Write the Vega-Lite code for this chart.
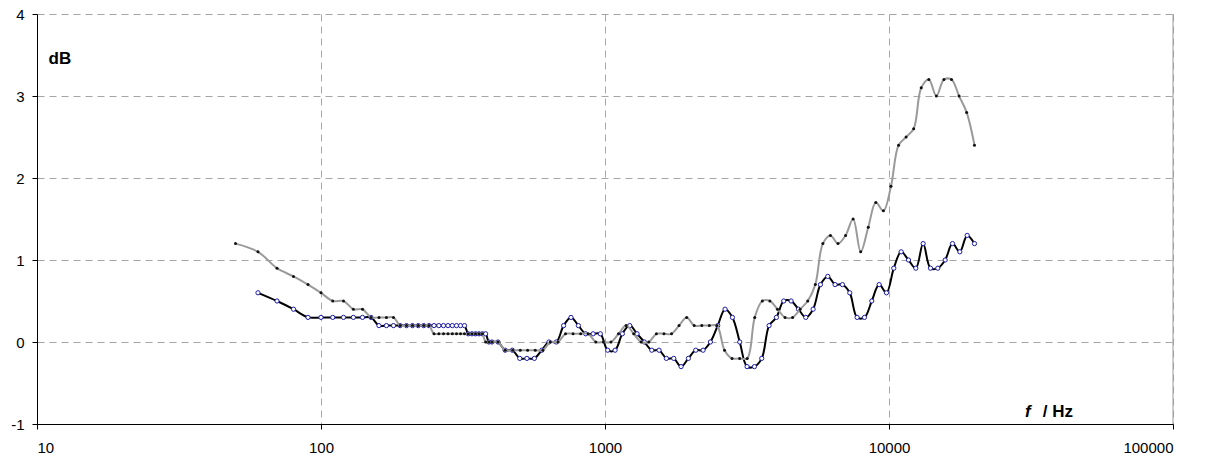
{
  "$schema": "https://vega.github.io/schema/vega-lite/v6.json",
  "width": 1136,
  "height": 410,
  "autosize": {"type": "none"},
  "padding": {"left": 37, "top": 14, "right": 44, "bottom": 35},
  "background": "white",
  "config": {
    "view": {"stroke": null},
    "font": "Liberation Sans",
    "axis": {
      "labelFont": "Liberation Sans",
      "labelFontSize": 15,
      "labelColor": "black",
      "domainColor": "black",
      "domainWidth": 1,
      "tickColor": "black",
      "tickSize": 5,
      "gridColor": "#a6a6a6",
      "gridDash": [7, 5],
      "gridWidth": 1
    }
  },
  "datasets": {
    "gray": [
      {"f": 50, "v": 1.2}, {"f": 60, "v": 1.1}, {"f": 70, "v": 0.9}, {"f": 80, "v": 0.8}, {"f": 90, "v": 0.7},
      {"f": 100, "v": 0.6}, {"f": 110, "v": 0.5}, {"f": 120, "v": 0.5}, {"f": 130, "v": 0.4}, {"f": 140, "v": 0.4},
      {"f": 150, "v": 0.3}, {"f": 160, "v": 0.3}, {"f": 170, "v": 0.3}, {"f": 180, "v": 0.3}, {"f": 190, "v": 0.2},
      {"f": 200, "v": 0.2}, {"f": 210, "v": 0.2}, {"f": 220, "v": 0.2}, {"f": 230, "v": 0.2}, {"f": 240, "v": 0.2},
      {"f": 250, "v": 0.1}, {"f": 260, "v": 0.1}, {"f": 270, "v": 0.1}, {"f": 280, "v": 0.1}, {"f": 290, "v": 0.1},
      {"f": 300, "v": 0.1}, {"f": 310, "v": 0.1}, {"f": 320, "v": 0.1}, {"f": 330, "v": 0.1}, {"f": 340, "v": 0.1},
      {"f": 350, "v": 0.1}, {"f": 360, "v": 0.1}, {"f": 370, "v": 0.1}, {"f": 380, "v": 0.0}, {"f": 390, "v": 0.0},
      {"f": 400, "v": 0.0}, {"f": 420, "v": 0.0},
      {"f": 445, "v": -0.1}, {"f": 473, "v": -0.1}, {"f": 503, "v": -0.1}, {"f": 534, "v": -0.1}, {"f": 568, "v": -0.1},
      {"f": 604, "v": -0.1}, {"f": 642, "v": 0.0}, {"f": 683, "v": 0.0}, {"f": 726, "v": 0.1}, {"f": 772, "v": 0.1},
      {"f": 821, "v": 0.1}, {"f": 873, "v": 0.1}, {"f": 928, "v": 0.0}, {"f": 987, "v": 0.0}, {"f": 1050, "v": 0.0},
      {"f": 1116, "v": 0.1}, {"f": 1187, "v": 0.2}, {"f": 1262, "v": 0.1}, {"f": 1341, "v": 0.0}, {"f": 1426, "v": 0.0},
      {"f": 1517, "v": 0.1}, {"f": 1613, "v": 0.1}, {"f": 1715, "v": 0.1}, {"f": 1823, "v": 0.2}, {"f": 1939, "v": 0.3},
      {"f": 2061, "v": 0.2}, {"f": 2192, "v": 0.2}, {"f": 2330, "v": 0.2}, {"f": 2478, "v": 0.2}, {"f": 2635, "v": -0.1},
      {"f": 2801, "v": -0.2}, {"f": 2979, "v": -0.2}, {"f": 3167, "v": -0.2}, {"f": 3367, "v": 0.3}, {"f": 3581, "v": 0.5},
      {"f": 3807, "v": 0.5}, {"f": 4048, "v": 0.4}, {"f": 4304, "v": 0.3}, {"f": 4577, "v": 0.3}, {"f": 4866, "v": 0.4},
      {"f": 5174, "v": 0.5}, {"f": 5502, "v": 0.7}, {"f": 5850, "v": 1.2}, {"f": 6220, "v": 1.3}, {"f": 6613, "v": 1.2},
      {"f": 7032, "v": 1.3}, {"f": 7477, "v": 1.5}, {"f": 7950, "v": 1.1}, {"f": 8453, "v": 1.4}, {"f": 8988, "v": 1.7},
      {"f": 9557, "v": 1.6}, {"f": 10162, "v": 1.9}, {"f": 10805, "v": 2.4}, {"f": 11488, "v": 2.5}, {"f": 12215, "v": 2.6},
      {"f": 12988, "v": 3.1}, {"f": 13810, "v": 3.2}, {"f": 14684, "v": 3.0}, {"f": 15614, "v": 3.2}, {"f": 16602, "v": 3.2},
      {"f": 17652, "v": 3.0}, {"f": 18769, "v": 2.8}, {"f": 20000, "v": 2.4}
    ],
    "black": [
      {"f": 60, "v": 0.6}, {"f": 70, "v": 0.5}, {"f": 80, "v": 0.4}, {"f": 90, "v": 0.3}, {"f": 100, "v": 0.3},
      {"f": 110, "v": 0.3}, {"f": 120, "v": 0.3}, {"f": 130, "v": 0.3}, {"f": 140, "v": 0.3}, {"f": 150, "v": 0.3},
      {"f": 160, "v": 0.2}, {"f": 170, "v": 0.2}, {"f": 180, "v": 0.2}, {"f": 190, "v": 0.2}, {"f": 200, "v": 0.2},
      {"f": 210, "v": 0.2}, {"f": 220, "v": 0.2}, {"f": 230, "v": 0.2}, {"f": 240, "v": 0.2}, {"f": 250, "v": 0.2},
      {"f": 260, "v": 0.2}, {"f": 270, "v": 0.2}, {"f": 280, "v": 0.2}, {"f": 290, "v": 0.2}, {"f": 300, "v": 0.2},
      {"f": 310, "v": 0.2}, {"f": 320, "v": 0.2}, {"f": 330, "v": 0.1}, {"f": 340, "v": 0.1}, {"f": 350, "v": 0.1},
      {"f": 360, "v": 0.1}, {"f": 370, "v": 0.1}, {"f": 380, "v": 0.1}, {"f": 390, "v": 0.0}, {"f": 400, "v": 0.0},
      {"f": 420, "v": 0.0},
      {"f": 445, "v": -0.1}, {"f": 472, "v": -0.1}, {"f": 501, "v": -0.2}, {"f": 531, "v": -0.2}, {"f": 564, "v": -0.2},
      {"f": 599, "v": -0.1}, {"f": 635, "v": 0.0}, {"f": 674, "v": 0.0}, {"f": 715, "v": 0.2}, {"f": 759, "v": 0.3},
      {"f": 806, "v": 0.2}, {"f": 855, "v": 0.1}, {"f": 908, "v": 0.1}, {"f": 963, "v": 0.1}, {"f": 1022, "v": -0.1},
      {"f": 1085, "v": -0.1}, {"f": 1151, "v": 0.1}, {"f": 1222, "v": 0.2}, {"f": 1297, "v": 0.1}, {"f": 1376, "v": 0.0},
      {"f": 1461, "v": -0.1}, {"f": 1550, "v": -0.1}, {"f": 1645, "v": -0.2}, {"f": 1746, "v": -0.2}, {"f": 1853, "v": -0.3},
      {"f": 1966, "v": -0.2}, {"f": 2087, "v": -0.1}, {"f": 2215, "v": -0.1}, {"f": 2350, "v": 0.0}, {"f": 2494, "v": 0.2},
      {"f": 2647, "v": 0.4}, {"f": 2810, "v": 0.3}, {"f": 2982, "v": 0.0}, {"f": 3164, "v": -0.3}, {"f": 3358, "v": -0.3},
      {"f": 3564, "v": -0.2}, {"f": 3783, "v": 0.2}, {"f": 4014, "v": 0.3}, {"f": 4260, "v": 0.5}, {"f": 4521, "v": 0.5},
      {"f": 4799, "v": 0.4}, {"f": 5093, "v": 0.3}, {"f": 5405, "v": 0.4}, {"f": 5736, "v": 0.7}, {"f": 6087, "v": 0.8},
      {"f": 6460, "v": 0.7}, {"f": 6856, "v": 0.7}, {"f": 7276, "v": 0.6}, {"f": 7722, "v": 0.3}, {"f": 8196, "v": 0.3},
      {"f": 8698, "v": 0.5}, {"f": 9231, "v": 0.7}, {"f": 9796, "v": 0.6}, {"f": 10397, "v": 0.9}, {"f": 11034, "v": 1.1},
      {"f": 11710, "v": 1.0}, {"f": 12428, "v": 0.9}, {"f": 13189, "v": 1.2}, {"f": 13997, "v": 0.9}, {"f": 14855, "v": 0.9},
      {"f": 15766, "v": 1.0}, {"f": 16732, "v": 1.2}, {"f": 17757, "v": 1.1}, {"f": 18845, "v": 1.3}, {"f": 20000, "v": 1.2}
    ]
  },
  "layer": [
    {
      "data": {"name": "black"},
      "mark": {"type": "line", "color": "black", "strokeWidth": 2, "interpolate": "catmull-rom"},
      "encoding": {
        "x": {
          "field": "f", "type": "quantitative",
          "scale": {"type": "log", "domain": [10, 100000], "nice": false},
          "axis": {
            "values": [10, 100, 1000, 10000, 100000],
            "labelExpr": "'' + datum.value",
            "labelPadding": 11,
            "title": null,
            "grid": true
          }
        },
        "y": {
          "field": "v", "type": "quantitative",
          "scale": {"domain": [-1, 4], "nice": false, "zero": false},
          "axis": {
            "values": [-1, 0, 1, 2, 3, 4],
            "labelExpr": "'' + datum.value",
            "labelPadding": 8,
            "title": "dB",
            "titleAngle": 0,
            "titleFont": "Liberation Sans",
            "titleFontSize": 17,
            "titleFontWeight": "bold",
            "titleAlign": "left",
            "titleBaseline": "alphabetic",
            "titleX": 11,
            "titleY": 49,
            "grid": true
          }
        }
      }
    },
    {
      "data": {"name": "black"},
      "mark": {"type": "point", "shape": "circle", "filled": true, "fill": "white", "stroke": "#1c1ca8", "strokeWidth": 1, "size": 18, "opacity": 1},
      "encoding": {
        "x": {"field": "f", "type": "quantitative"},
        "y": {"field": "v", "type": "quantitative"}
      }
    },
    {
      "data": {"name": "gray"},
      "mark": {"type": "line", "color": "#9a9a9a", "strokeWidth": 2, "interpolate": "catmull-rom"},
      "encoding": {
        "x": {"field": "f", "type": "quantitative"},
        "y": {"field": "v", "type": "quantitative"}
      }
    },
    {
      "data": {"name": "gray"},
      "mark": {"type": "point", "shape": "circle", "filled": true, "color": "#111111", "size": 9, "opacity": 1},
      "encoding": {
        "x": {"field": "f", "type": "quantitative"},
        "y": {"field": "v", "type": "quantitative"}
      }
    },
    {
      "data": {"values": [{}]},
      "mark": {"type": "rule", "color": "#9a9a9a", "strokeWidth": 1},
      "encoding": {"x": {"datum": 100000, "type": "quantitative"}}
    },
    {
      "data": {"values": [{}]},
      "mark": {"type": "text", "font": "Liberation Sans", "fontSize": 17, "fontWeight": "bold", "fontStyle": "italic", "align": "left", "baseline": "alphabetic", "color": "black"},
      "encoding": {
        "x": {"datum": 30130, "type": "quantitative"},
        "y": {"datum": -0.911, "type": "quantitative"},
        "text": {"value": "f"}
      }
    },
    {
      "data": {"values": [{}]},
      "mark": {"type": "text", "font": "Liberation Sans", "fontSize": 17, "fontWeight": "bold", "align": "right", "baseline": "alphabetic", "color": "black"},
      "encoding": {
        "x": {"datum": 44450, "type": "quantitative"},
        "y": {"datum": -0.911, "type": "quantitative"},
        "text": {"value": "/ Hz"}
      }
    }
  ]
}
